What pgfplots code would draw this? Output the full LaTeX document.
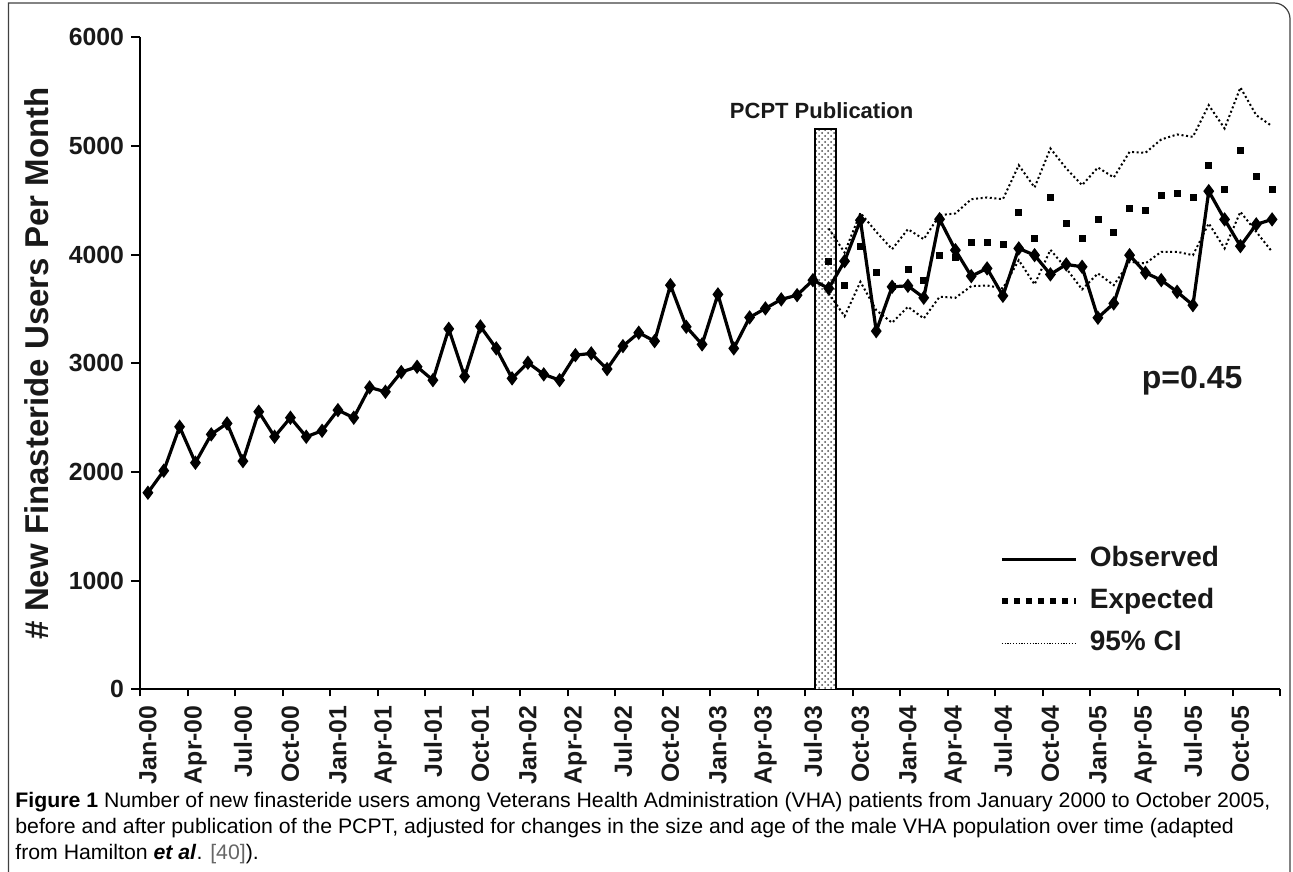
\documentclass[border=0pt]{standalone}
\usepackage{fontspec}
\setmainfont{Liberation Sans}
\usepackage{pgfplots}
\usepackage{pgfplotstable}
\usepackage{graphicx}
\usetikzlibrary{patterns}
\pgfplotsset{compat=1.18}
\newlength\capw

\pgfplotstableread{
x y
0 1810
1 2012
2 2417
3 2086
4 2347
5 2448
6 2101
7 2555
8 2325
9 2500
10 2325
11 2380
12 2570
13 2500
14 2779
15 2739
16 2920
17 2969
18 2846
19 3318
20 2880
21 3340
22 3138
23 2862
24 3006
25 2899
26 2846
27 3076
28 3092
29 2948
30 3159
31 3282
32 3205
33 3720
34 3337
35 3175
36 3635
37 3138
38 3423
39 3506
40 3589
41 3628
42 3766
43 3690
44 3941
45 4318
46 3297
47 3705
48 3714
49 3604
50 4327
51 4042
52 3803
53 3874
54 3622
55 4058
56 3996
57 3819
58 3911
59 3889
60 3420
61 3552
62 3996
63 3834
64 3766
65 3659
66 3536
67 4585
68 4325
69 4079
70 4279
71 4325
}\obsdata

\pgfplotstableread{
x y
43 3941
44 3714
45 4080
46 3837
47 3712
48 3869
49 3766
50 3990
51 3975
52 4111
53 4111
54 4096
55 4390
56 4148
57 4527
58 4288
59 4150
60 4325
61 4201
62 4426
63 4410
64 4548
65 4564
66 4530
67 4824
68 4601
69 4962
70 4717
71 4601
}\expdata

\pgfplotstableread{
x y
43 4240
44 4020
45 4385
46 4211
47 4051
48 4235
49 4143
50 4364
51 4380
52 4511
53 4527
54 4511
55 4824
56 4619
57 4978
58 4794
59 4640
60 4803
61 4711
62 4947
63 4938
64 5061
65 5107
66 5085
67 5376
68 5162
69 5539
70 5284
71 5183
}\ciupper

\pgfplotstableread{
x y
43 3644
44 3434
45 3751
46 3490
47 3374
48 3521
49 3414
50 3613
51 3604
52 3711
53 3717
54 3690
55 3950
56 3727
57 4045
58 3874
59 3681
60 3828
61 3720
62 3935
63 3920
64 4027
65 4027
66 3996
67 4288
68 4058
69 4395
70 4211
71 4027
}\cilower

\newcommand{\capfont}{\fontsize{10.5}{13}\selectfont}

\begin{document}
\settowidth{\capw}{\capfont\textbf{Figure 1} Number of new finasteride users among Veterans Health Administration (VHA) patients from January 2000 to October 2005,}%
\pgfmathsetmacro{\capscale}{627.5/\capw}%
\begin{tikzpicture}
\useasboundingbox (0,0) rectangle (646.5pt,435.5pt);
% frame
\draw[black!75, line width=0.6pt] (4.2pt,-3pt) -- (4.2pt,434pt) -- (637pt,434pt) arc[start angle=90, end angle=0, radius=8pt] -- (645pt,-3pt);

\begin{axis}[
  at={(70pt,90.8pt)}, anchor=south west,
  scale only axis, width=570pt, height=326pt,
  xmin=-0.5, xmax=71.5, ymin=0, ymax=6000,
  axis x line=bottom, axis y line=left,
  axis line style={-, line width=1pt, black},
  tick align=outside,
  ytick={0,1000,...,6000},
  major tick length=4.5pt,
  minor tick length=3.5pt,
  xtick={0,3,...,69},
  xticklabels={Jan-00,Apr-00,Jul-00,Oct-00,Jan-01,Apr-01,Jul-01,Oct-01,Jan-02,Apr-02,Jul-02,Oct-02,Jan-03,Apr-03,Jul-03,Oct-03,Jan-04,Apr-04,Jul-04,Oct-04,Jan-05,Apr-05,Jul-05,Oct-05},
  minor xtick={-0.5,2.5,...,71.5},
  major x tick style={draw=none},
  minor x tick style={line width=1pt, black},
  y tick style={line width=1pt, black},
  ticklabel style={font=\bfseries\fontsize{12.4}{14}\selectfont, text=black!90},
  xticklabel style={rotate=90, anchor=east},
  /pgf/number format/assume math mode=true,
  /pgf/number format/1000 sep={},
  ylabel={\# New Finasteride Users Per Month},
  ylabel style={font=\bfseries\fontsize{16.5}{19}\selectfont, text=black!90},
  ylabel shift=3pt,
  clip=false,
  legend style={at={(0.753,0.220)}, anchor=north west, draw=none, fill=none,
    inner sep=0pt, font=\bfseries\fontsize{14}{16}\selectfont, text=black!90, row sep=8pt,
    nodes={inner sep=0pt, text height=10pt, text depth=3pt},
    /tikz/every odd column/.append style={column sep=5.5pt}},
  legend cell align=left,
  legend image code/.code={\draw[#1] (0pt,0pt) -- (37pt,0pt);},
]
\addplot[ybar, bar width=1.33, fill=white, draw=black, line width=0.8pt, forget plot,
  postaction={pattern=crosshatch dots, pattern color=black!70}] coordinates {(42.8,5155)};
\addplot[black, line width=1pt, dash pattern=on 1pt off 1.3pt, forget plot] table[x=x,y=y]{\ciupper};
\addplot[black, line width=1pt, dash pattern=on 1pt off 1.3pt, forget plot] table[x=x,y=y]{\cilower};
\addplot[only marks, mark=square*, mark size=1.5pt, black, forget plot] table[x=x,y=y]{\expdata};
\addplot[black, line width=1.6pt, mark=diamond*, mark size=2.3pt, mark options={solid}, forget plot] table[x=x,y=y]{\obsdata};

\addlegendimage{black, line width=1.6pt}
\addlegendentry{Observed}
\addlegendimage{black, line width=3pt, dash pattern=on 3pt off 3pt}
\addlegendentry{Expected}
\addlegendimage{black, line width=0.6pt, dash pattern=on 0.6pt off 0.8pt}
\addlegendentry{95\% CI}

\node[font=\bfseries\fontsize{11}{13}\selectfont, text=black!90] at (axis cs:42.55,5330) {PCPT Publication};
\node[font=\bfseries\fontsize{16}{19}\selectfont, text=black!90] at (axis cs:65.95,2837) {p=0.45};
\end{axis}

\node[anchor=base west, inner sep=0pt] at (7.5pt,31.5pt) {\scalebox{\capscale}[1]{\capfont\textbf{Figure 1} Number of new finasteride users among Veterans Health Administration (VHA) patients from January 2000 to October 2005,}};
\node[anchor=base west, inner sep=0pt] at (7.5pt,18.5pt) {\scalebox{\capscale}[1]{\capfont before and after publication of the PCPT, adjusted for changes in the size and age of the male VHA population over time (adapted}};
\node[anchor=base west, inner sep=0pt] at (7.5pt,5.5pt) {\scalebox{\capscale}[1]{\capfont from Hamilton \textbf{\textit{et al}}. \textcolor{black!60}{[40]}).}};
\end{tikzpicture}
\end{document}
